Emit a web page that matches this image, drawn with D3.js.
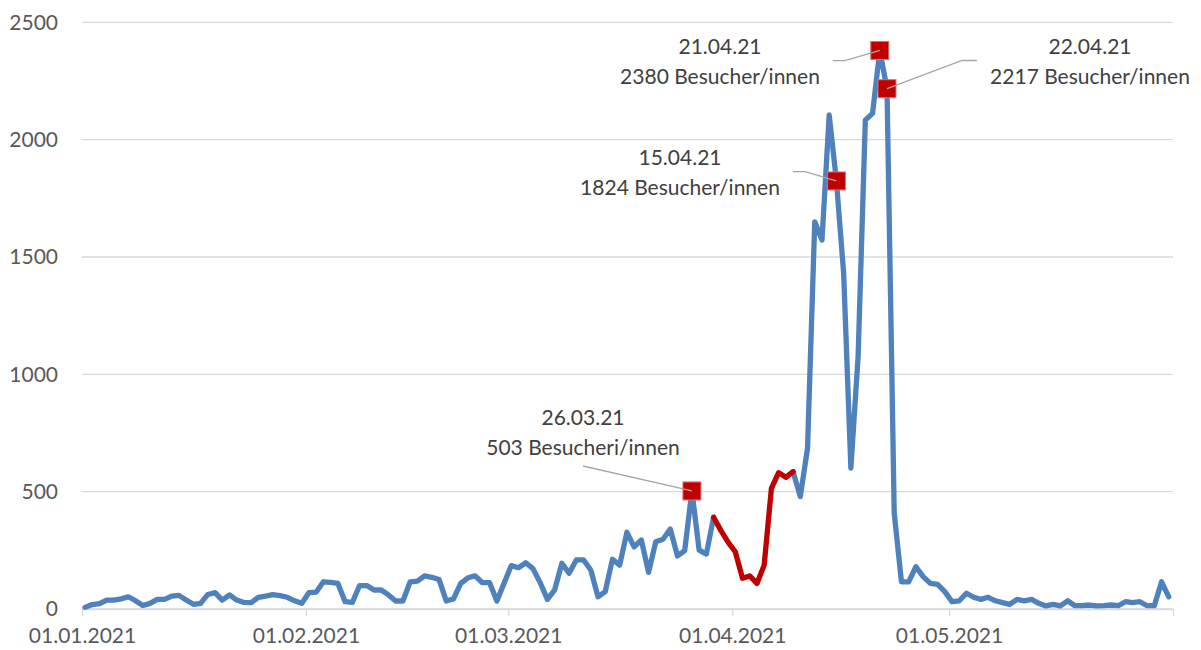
<!DOCTYPE html>
<html>
<head>
<meta charset="utf-8">
<script src="https://cdn.jsdelivr.net/npm/d3@7"></script>
<style>
  html, body { margin: 0; padding: 0; background: #fff; }
  svg { display: block; font-family: "Lato", "Open Sans", sans-serif; }
</style>
</head>
<body>
<svg id="chart" width="1201" height="650"></svg>
<script>
// ---- data (daily visitors, 01.01.2021 – 31.05.2021) ----
const startDate = "2021-01-01";
const visitors = [
  7, 19, 23, 38, 38, 43, 52, 35, 15, 24, 41, 41, 55, 58, 38, 20, 24, 62, 70, 38,
  60, 38, 28, 27, 50, 55, 61, 57, 50, 35, 24,
  70, 72, 116, 113, 109, 31, 28, 100, 100, 81, 81, 60, 34, 34, 116, 119, 141, 135, 126,
  34, 43, 109, 133, 141, 112, 112, 34, 110,
  185, 176, 197, 172, 112, 41, 81, 195, 152, 209, 209, 166, 52, 74, 212, 187, 327, 265, 294,
  156, 287, 297, 341, 226, 249, 503, 251, 234, 391, 335, 285,
  244, 131, 141, 109, 187, 514, 581, 561, 585, 479, 685, 1650, 1572, 2105, 1824, 1430,
  600, 1075, 2083, 2112, 2380, 2217, 408, 116, 116, 180, 138, 109, 105, 74,
  31, 35, 67, 50, 41, 50, 35, 27, 20, 41, 35, 41, 24, 13, 20, 13, 35, 14, 14, 17,
  13, 14, 17, 14, 31, 27, 31, 14, 14, 116, 52
];
// index range drawn in red (28.03 – 08.04)
const redRange = [87, 98];
// highlighted points
const highlightDays = ["26.03.21", "15.04.21", "21.04.21", "22.04.21"];
const highlightIndex = [84, 104, 110, 111];
const highlightText = ["503 Besucheri/innen", "1824 Besucher/innen", "2380 Besucher/innen", "2217 Besucher/innen"];
const yTicks = [0, 500, 1000, 1500, 2000, 2500];
const xTickDates = ["2021-01-01", "2021-02-01", "2021-03-01", "2021-04-01", "2021-05-01", "2021-06-01"];
const xTickLabels = ["01.01.2021", "01.02.2021", "01.03.2021", "01.04.2021", "01.05.2021", ""];

// ---- layout ----
const svg = d3.select("#chart");
const plotLeft = 82, plotRight = 1173, plotTop = 22.3, plotBottom = 609;
const fontSize = "21px";

const parse = d3.utcParse("%Y-%m-%d");
const t0 = parse(startDate);
const dateOf = i => new Date(t0.getTime() + i * 864e5 + 10 * 36e5);

const x = d3.scaleUtc()
  .domain([parse(xTickDates[0]), parse(xTickDates[xTickDates.length - 1])])
  .range([plotLeft, plotRight]);
const y = d3.scaleLinear().domain([0, 2500]).range([plotBottom, plotTop]);

const gridColor = "#d9d9d9";
const textColor = "#595959";

// gridlines
svg.append("g").selectAll("line").data(yTicks).join("line")
  .attr("x1", plotLeft).attr("x2", plotRight)
  .attr("y1", d => y(d)).attr("y2", d => y(d))
  .attr("stroke", gridColor).attr("stroke-width", 1.3);

// y axis labels
const yAxis = d3.axisLeft(y).tickValues(yTicks).tickFormat(d3.format("d")).tickSize(0).tickPadding(0);
const gy = svg.append("g").attr("transform", `translate(58,0)`).call(yAxis);
gy.select(".domain").remove();
gy.selectAll("text").attr("fill", textColor).style("font-size", fontSize)
  .style("font-family", "Lato, sans-serif").attr("dy", "0.32em");

// x axis
const xAxis = d3.axisBottom(x).tickValues(xTickDates.map(parse))
  .tickFormat((d, i) => xTickLabels[i]).tickSize(7).tickPadding(12).tickSizeOuter(0);
const gx = svg.append("g").attr("transform", `translate(0,${plotBottom})`).call(xAxis);
gx.select(".domain").attr("stroke", gridColor).attr("stroke-width", 1.3);
gx.selectAll(".tick line").attr("stroke", gridColor).attr("stroke-width", 1.3);
gx.selectAll("text").attr("fill", textColor).style("font-size", fontSize)
  .style("font-family", "Lato, sans-serif");

// series
const pts = visitors.map((v, i) => ({ i, d: dateOf(i), v }));
const line = d3.line().x(p => x(p.d)).y(p => y(p.v))
  .defined(p => !(p.i > redRange[0] && p.i < redRange[1]));
svg.append("path").datum(pts).attr("d", line)
  .attr("fill", "none").attr("stroke", "#4f81bd").attr("stroke-width", 5.3)
  .attr("stroke-linejoin", "round").attr("stroke-linecap", "round");

const redPts = pts.filter(p => p.i >= redRange[0] && p.i <= redRange[1]);
svg.append("path").datum(redPts).attr("d", d3.line().x(p => x(p.d)).y(p => y(p.v)))
  .attr("fill", "none").attr("stroke", "#c00000").attr("stroke-width", 5.3)
  .attr("stroke-linejoin", "round").attr("stroke-linecap", "round");

// leader lines (drawn from label side to marker)
const leaderColor = "#a6a6a6";
const leaders = [
  { idx: 0, pts: [[583, 466]] },
  { idx: 1, pts: [[793, 171.7], [805, 171.7]] },
  { idx: 2, pts: [[833, 60.7], [845, 60.7]] },
  { idx: 3, pts: [[977, 60.5], [962, 60.5]] }
];
leaders.forEach(L => {
  const p = pts[highlightIndex[L.idx]];
  const all = L.pts.concat([[x(p.d), y(p.v)]]);
  svg.append("path").attr("d", d3.line()(all))
    .attr("fill", "none").attr("stroke", leaderColor).attr("stroke-width", 1.3);
});

// markers
const ms = 18;
svg.append("g").selectAll("rect").data(highlightIndex).join("rect")
  .attr("x", i => x(pts[i].d) - ms / 2).attr("y", i => y(pts[i].v) - ms / 2)
  .attr("width", ms).attr("height", ms)
  .attr("fill", "#c00000").attr("stroke", "#e07070").attr("stroke-width", 1);
// short leader tail visible over the markers
leaders.forEach(L => {
  const p = pts[highlightIndex[L.idx]];
  const last = L.pts[L.pts.length - 1];
  const cx = x(p.d), cy = y(p.v);
  const dx = last[0] - cx, dy = last[1] - cy;
  const k = (ms / 2) / Math.max(Math.abs(dx), 1);
  svg.append("line").attr("x1", cx).attr("y1", cy)
    .attr("x2", cx + dx * k).attr("y2", cy + dy * k)
    .attr("stroke", leaderColor).attr("stroke-width", 1.3);
});

// labels
const labelPos = [[583, 418], [680, 158], [720, 47], [1090, 47]];
const lg = svg.append("g").attr("fill", "#404040").style("font-size", fontSize)
  .style("font-family", "Lato, sans-serif").attr("text-anchor", "middle");
labelPos.forEach((pos, k) => {
  const t = lg.append("text").attr("x", pos[0]).attr("y", pos[1]);
  t.append("tspan").attr("x", pos[0]).attr("dy", "0.35em").text(highlightDays[k]);
  t.append("tspan").attr("x", pos[0]).attr("dy", "1.4em").text(highlightText[k]);
});
</script>
</body>
</html>
